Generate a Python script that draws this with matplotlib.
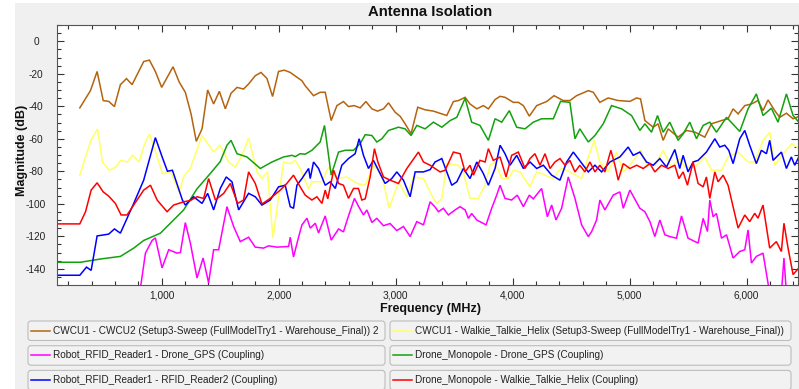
import matplotlib
matplotlib.use("Agg")
import matplotlib.pyplot as plt
import matplotlib.transforms as mtransforms
from matplotlib.patches import FancyBboxPatch, Rectangle
from matplotlib.lines import Line2D
from matplotlib.ticker import MultipleLocator, FuncFormatter

plt.rcParams['font.family'] = ['Liberation Sans', 'DejaVu Sans']
plt.rcParams['axes.unicode_minus'] = False

# ---- data ----
labels = [
    "CWCU1 - CWCU2 (Setup3-Sweep (FullModelTry1 - Warehouse_Final)) 2",
    "CWCU1 - Walkie_Talkie_Helix (Setup3-Sweep (FullModelTry1 - Warehouse_Final))",
    "Robot_RFID_Reader1 - Drone_GPS (Coupling)",
    "Drone_Monopole - Drone_GPS (Coupling)",
    "Robot_RFID_Reader1 - RFID_Reader2 (Coupling)",
    "Drone_Monopole - Walkie_Talkie_Helix (Coupling)",
]
colors = ['#b4640f', '#ffff66', '#ff00ff', '#13a10e', '#0000ff', '#ff0000']

brown_f = [300, 391, 448, 500, 547, 596, 647, 699, 747, 846, 895, 946, 1000, 1097, 1151, 1202, 1251,
           1296, 1345, 1393, 1444, 1493, 1544, 1593, 1644, 1700, 1743, 1800, 1849, 1900, 1948, 1999,
           2048, 2099, 2199, 2227, 2298, 2355, 2398, 2449, 2498, 2554, 2597, 2646, 2697, 2746, 2797,
           2845, 2896, 2939, 2996, 3040, 3081, 3132, 3189, 3252, 3323, 3437, 3494, 3537, 3594, 3636,
           3694, 3750, 3793, 3850, 3893, 3935, 4006, 4049, 4092, 4143, 4206, 4291, 4354, 4433, 4490,
           4547, 4647, 4690, 4746, 4817, 4903, 5003, 5060, 5094, 5131, 5202, 5244, 5287, 5330, 5415,
           5487, 5558, 5643, 5700, 5786, 5842, 5885, 5928, 5985, 6042, 6098, 6141, 6184, 6241, 6284,
           6341, 6398, 6447]
brown_db = [-41, -30.4, -18.6, -36.5, -37, -40.2, -26.7, -23, -26.7, -12.5, -11.6, -18.6, -28.4,
            -15.7, -25.3, -31.4, -44.7, -61.6, -53.9, -30, -38.6, -30.8, -41.6, -32, -28.4, -29.4,
            -26.3, -21.2, -19.2, -22.9, -34, -18.6, -17.8, -19.2, -24.3, -27.4, -33.5, -31.4, -31.4,
            -48.8, -39.6, -37.1, -40.2, -39.6, -41, -37.1, -41.6, -43, -41.6, -37.9, -43.7, -46.3,
            -50.8, -56.9, -40.6, -42.2, -43, -45.7, -37.1, -36.5, -34.5, -38.6, -41.6, -39.6, -41.6,
            -35.9, -33.9, -34.5, -37.6, -37.6, -39.6, -46.1, -39.6, -37.1, -33.5, -36.5, -36.5,
            -33.5, -30.4, -31.4, -37.6, -34.9, -36.5, -37, -34.9, -35.5, -48.8, -52.9, -50.8, -61,
            -53.9, -59, -54.9, -55.9, -59, -50.8, -48.8, -47.7, -41.6, -44.7, -39.6, -38.6, -36.5,
            -42.7, -36.1, -42.7, -46.8, -44.3, -47.7, -46.3]

yellow_f = [300, 394, 451, 494, 551, 607, 650, 707, 750, 807, 850, 895, 949, 1006, 1077, 1149, 1190,
            1245, 1345, 1444, 1501, 1572, 1629, 1687, 1743, 1815, 1857, 1905, 1951, 2042, 2099, 2142,
            2184, 2256, 2284, 2370, 2426, 2498, 2583, 2669, 2740, 2810, 2882, 2945, 3024, 3096, 3152,
            3238, 3323, 3352, 3395, 3437, 3537, 3579, 3636, 3707, 3764, 3807, 3850, 3907, 3963, 4006,
            4063, 4149, 4206, 4277, 4348, 4390, 4419, 4490, 4590, 4647, 4698, 4746, 4817, 4889, 4946,
            5003, 5097, 5145, 5216, 5287, 5359, 5429, 5472, 5558, 5643, 5700, 5786, 5842, 5928, 6013,
            6070, 6141, 6198, 6241, 6312, 6389, 6447]
yellow_db = [-82.4, -61, -53.9, -74.3, -79.4, -77.4, -73.3, -74.3, -70.2, -74.3, -64.1, -57, -68.2,
             -81.4, -80.4, -92.7, -83, -78.3, -58, -68.2, -64, -74.3, -77.4, -70.2, -59.6, -80.4,
             -84.5, -80.4, -121, -74.3, -75.3, -73.3, -78.3, -91, -86.5, -86.5, -77.4, -84.5, -83.5,
             -87.5, -88.6, -76.3, -82.4, -102.8, -86.5, -95.7, -83.5, -84.5, -96.7, -99.8, -96.7,
             -75.3, -76.3, -80.4, -96.7, -96.7, -88.6, -76.3, -74.3, -84.5, -84.5, -79.4, -80.4,
             -89.6, -80.4, -82.4, -84.5, -80, -78.3, -80.4, -84.5, -71.2, -61, -74.3, -80.4, -68.2,
             -80.4, -76.3, -67.1, -76.3, -76.3, -67.1, -77.4, -72.2, -77.4, -77.4, -71.2, -79.4,
             -79.4, -71.2, -68.2, -74.3, -74.3, -61, -56, -76.3, -69.2, -63, -66]

magenta_f = [818, 861, 918, 946, 1003, 1060, 1132, 1160, 1202, 1245, 1302, 1354, 1401, 1444, 1487,
             1558, 1615, 1672, 1743, 1800, 1871, 1914, 1985, 2085, 2099, 2127, 2170, 2199, 2242, 2270,
             2313, 2341, 2398, 2449, 2512, 2554, 2597, 2648, 2682, 2725, 2754, 2797, 2839, 2896, 2953,
             3010, 3067, 3124, 3181, 3238, 3295, 3337, 3366, 3408, 3451, 3508, 3551, 3594, 3622, 3650,
             3694, 3773, 3821, 3864, 3893, 3935, 3992, 4040, 4092, 4143, 4177, 4248, 4297, 4334, 4371,
             4419, 4476, 4533, 4590, 4647, 4676, 4718, 4746, 4789, 4860, 4917, 4946, 5003, 5088, 5131,
             5174, 5216, 5259, 5302, 5344, 5401, 5444, 5500, 5586, 5629, 5666, 5686, 5714, 5743, 5786,
             5829, 5885, 5942, 5985, 6013, 6042, 6084, 6141, 6198, 6298, 6320, 6341]
magenta_db = [-152, -130.4, -122.6, -121, -139.5, -128.3, -130.4, -130, -111.6, -124.2, -145.7,
              -133.4, -148.7, -128.3, -128.3, -101.8, -114, -123.3, -120.6, -126.7, -127.3, -125.9,
              -126.7, -126.3, -120.6, -132.8, -120.6, -113, -108.9, -115, -112, -118, -107.5, -122.4,
              -115.5, -117.3, -107.5, -96.7, -101.5, -106.9, -103.8, -111.5, -109, -113.5, -112.2,
              -116.5, -114, -120.2, -111, -113, -98.8, -102, -104.9, -102.8, -106.9, -103.8, -101.8,
              -103.8, -109, -106, -110, -113, -102.8, -94.7, -88.6, -96.7, -97.7, -94.7, -101.8,
              -94.7, -97, -90.6, -108, -100.8, -110, -102.8, -83.5, -96.7, -113, -120.2, -117.1,
              -110, -97.7, -103.8, -94.7, -92.7, -102.8, -91.6, -102.8, -104.9, -111, -120.2, -110,
              -119.1, -120.2, -121.2, -107.5, -121.2, -124.2, -109, -117.1, -97.7, -108, -106,
              -121.2, -119.1, -133.4, -129.4, -128.3, -116.1, -136.5, -132.4, -130.4, -155, -155,
              -133.4, -155]

green_f = [100, 306, 477, 647, 761, 846, 989, 1102, 1188, 1300, 1420, 1501, 1558, 1593, 1644, 1729,
           1843, 1943, 2042, 2113, 2142, 2184, 2227, 2284, 2355, 2392, 2449, 2512, 2569, 2640, 2697,
           2740, 2797, 2839, 2882, 2939, 3024, 3081, 3132, 3181, 3252, 3323, 3395, 3466, 3523, 3594,
           3650, 3721, 3793, 3850, 3907, 3972, 4035, 4106, 4177, 4248, 4348, 4410, 4490, 4533, 4575,
           4647, 4704, 4775, 4846, 4932, 5017, 5088, 5131, 5188, 5239, 5287, 5344, 5415, 5458, 5515,
           5572, 5629, 5686, 5743, 5829, 5942, 6013, 6084, 6141, 6212, 6269, 6341, 6398, 6447]
green_db = [-136, -136, -134, -132.4, -127.3, -122.6, -118.1, -110, -103.8, -91, -81, -74, -64, -61,
            -69.2, -71.2, -78.3, -74.3, -71.2, -70.2, -71, -69.2, -69.5, -67.1, -62, -51.8, -82.4,
            -68.2, -67.1, -67.1, -63, -57.5, -58, -62, -60, -54.9, -52.9, -53.9, -58, -51.8, -53.9,
            -49.8, -52.9, -48.8, -46.8, -35.1, -49.8, -51.8, -61, -47.7, -49.8, -42.7, -52.9, -53.9,
            -49.8, -47.7, -47.7, -37, -37.6, -60, -53.9, -62, -58, -50.8, -39.6, -41.6, -45.7,
            -54.9, -50.8, -56, -45.7, -56, -49.8, -61, -57, -49.8, -60, -51.8, -49.8, -56, -46.8,
            -55.5, -41.6, -32.4, -45.7, -41.2, -49.8, -32.4, -45.7, -49.8]

blue_f = [100, 300, 357, 397, 448, 547, 596, 647, 761, 846, 946, 1003, 1049, 1092, 1177, 1202, 1273,
          1345, 1393, 1444, 1501, 1552, 1601, 1658, 1743, 1800, 1857, 1928, 1999, 2056, 2099, 2127,
          2156, 2199, 2256, 2270, 2298, 2341, 2398, 2441, 2484, 2540, 2597, 2654, 2688, 2725, 2768,
          2810, 2867, 2910, 2967, 3010, 3067, 3124, 3167, 3238, 3295, 3337, 3395, 3437, 3480, 3523,
          3579, 3636, 3694, 3750, 3793, 3850, 3893, 3935, 3978, 4035, 4092, 4149, 4206, 4263, 4334,
          4405, 4462, 4519, 4561, 4604, 4647, 4704, 4761, 4832, 4917, 4988, 5031, 5088, 5145, 5202,
          5259, 5316, 5387, 5429, 5458, 5500, 5543, 5586, 5657, 5729, 5771, 5814, 5848, 5885, 5942,
          5985, 6027, 6084, 6127, 6170, 6198, 6227, 6298, 6341, 6383, 6412, 6447]
blue_db = [-144, -144, -139, -141, -119.8, -118.7, -115.5, -118.1, -99.8, -85.5, -59.3, -71, -80,
           -79.4, -97.7, -100.8, -95.7, -99.8, -93.6, -103.8, -90.6, -83.5, -86.5, -103.8, -93.6,
           -95.7, -100.8, -97.7, -89.6, -88.6, -101.8, -102.8, -88.6, -84.5, -78.3, -84.5, -74.3,
           -78.3, -88.6, -86.5, -90.6, -76.3, -72.2, -69.2, -60, -70.2, -78.3, -73.3, -81.4, -87.5,
           -84.5, -80.4, -85.5, -95.7, -80.4, -80.4, -79, -74.3, -72.2, -80.4, -88.6, -86.5, -78.3,
           -84.5, -74.3, -81.4, -88.6, -78.3, -64, -69.2, -76.3, -70.2, -78.3, -74.3, -78.3, -76.3,
           -82.4, -85.5, -74.3, -68.2, -72.2, -76.3, -80.4, -76.3, -80.4, -74.3, -71.2, -65.1,
           -70.2, -68.2, -74.3, -76.3, -72.2, -77.4, -66.6, -78.3, -70.2, -80.4, -74.3, -73.3,
           -68.2, -60, -65.1, -64, -67.1, -75.3, -60, -54.9, -64, -75.3, -67.1, -69.2, -61, -73.3,
           -68.2, -78.3, -71.2, -76.3, -71.2]

red_f = [100, 300, 349, 397, 448, 500, 547, 604, 653, 704, 761, 846, 904, 961, 1046, 1102, 1188, 1245,
         1302, 1359, 1401, 1459, 1530, 1587, 1649, 1700, 1743, 1800, 1857, 1928, 2014, 2070, 2127,
         2184, 2227, 2284, 2327, 2370, 2398, 2420, 2470, 2512, 2554, 2597, 2640, 2682, 2711, 2740,
         2782, 2819, 2848, 2896, 2953, 3024, 3096, 3195, 3238, 3295, 3337, 3380, 3423, 3494, 3551,
         3594, 3636, 3665, 3721, 3765, 3793, 3835, 3893, 3944, 3992, 4049, 4106, 4149, 4191, 4234,
         4277, 4320, 4362, 4405, 4448, 4490, 4533, 4575, 4618, 4661, 4704, 4746, 4789, 4840, 4875,
         4903, 4946, 5003, 5060, 5117, 5174, 5216, 5273, 5330, 5387, 5421, 5458, 5495, 5543, 5586,
         5629, 5657, 5686, 5729, 5757, 5800, 5842, 5885, 5928, 5985, 6027, 6070, 6098, 6141, 6198,
         6255, 6298, 6320, 6355, 6398, 6447]
red_db = [-112.4, -112.4, -104.9, -91.6, -87.1, -92.7, -95.3, -99.8, -106.9, -106.9, -100.8, -91.6,
          -88.6, -97.7, -104.9, -100.8, -98.8, -98, -95.7, -96.7, -84.5, -97.7, -93.6, -87.5, -99.8,
          -97.7, -80.4, -87.5, -100.2, -96.7, -91.6, -87.5, -82.4, -89.6, -94.7, -97.7, -95.7,
          -99.8, -91.6, -97, -79.4, -87.5, -88.6, -96.7, -90.6, -90.6, -97.7, -97, -83.5, -66.1,
          -74.3, -83.5, -85.5, -87.5, -78.3, -68.2, -74.3, -76.3, -78.3, -80.4, -79.4, -68.2,
          -69.2, -80.4, -76.3, -82.4, -73.3, -74.3, -66.1, -73.3, -71.2, -83.5, -70.2, -68.2,
          -78.3, -72.2, -69.2, -76.3, -69.2, -78.3, -74.3, -72.2, -76.3, -73.3, -80.4, -76.3,
          -80.4, -74.3, -80.4, -76.3, -80.4, -67.1, -76.3, -85.5, -75.3, -78.3, -76.3, -78.3,
          -75.3, -80.4, -76.3, -78.3, -76.3, -84.5, -80.4, -88.6, -74.3, -87.5, -89.6, -83.5,
          -96.7, -80.4, -86.5, -82.4, -88.6, -101.8, -115, -106.9, -111, -105.9, -108.9, -100.8,
          -127.3, -123.3, -129.4, -112, -127.3, -143.6, -139.5]

series = [(brown_f, brown_db), (yellow_f, yellow_db), (magenta_f, magenta_db),
          (green_f, green_db), (blue_f, blue_db), (red_f, red_db)]

# ---- figure ----
W, H = 799, 389
fig = plt.figure(figsize=(W / 100, H / 100), dpi=100)
fig.patch.set_facecolor('white')
pix = mtransforms.Affine2D().scale(1 / W, 1 / H) + fig.transFigure

fig.add_artist(Rectangle((15, 0), W - 15, H - 3, transform=pix,
                         facecolor='#f0f0f0', edgecolor='none', zorder=0))

ax = fig.add_axes([57 / W, (H - 285) / H, (798 - 57) / W, 260 / H])
ax.set_facecolor('white')

for (f, db), c in zip(series, colors):
    ax.plot(f, db, color=c, lw=1.1, solid_joinstyle='miter')

ax.set_xlim(105, 6440)
ax.set_ylim(-150, 10)
ax.xaxis.set_major_locator(MultipleLocator(1000))
ax.xaxis.set_minor_locator(MultipleLocator(200))
ax.yaxis.set_major_locator(MultipleLocator(20))
ax.yaxis.set_minor_locator(MultipleLocator(5))
ax.set_yticks(range(-140, 1, 20))
ax.xaxis.set_major_formatter(FuncFormatter(lambda v, p: f"{int(v):,}"))

ax.tick_params(which='both', direction='in', top=True, right=True, colors='#333333',
               labelcolor='#222222', labelsize=7.3)
ax.tick_params(which='major', length=5, width=0.8)
ax.tick_params(which='minor', length=3, width=0.8)
ax.tick_params(axis='x', pad=4)
ax.tick_params(axis='y', pad=15)
for lbl in ax.get_yticklabels():
    lbl.set_horizontalalignment('center')
for s in ax.spines.values():
    s.set_color('#555555')
    s.set_linewidth(0.8)

fig.text(430 / W, 1 - 12 / H, "Antenna Isolation", ha='center', va='center',
         fontsize=10.7, fontweight='bold', color='#111111')
fig.text(430 / W, 1 - 309 / H, "Frequency (MHz)", ha='center', va='center',
         fontsize=9, fontweight='bold', color='#111111')
fig.text(22 / W, 1 - 150 / H, "Magnitude (dB)", ha='center', va='center', rotation=90,
         fontsize=9, fontweight='bold', color='#111111')

# ---- legend boxes ----
for i, (lab, c) in enumerate(zip(labels, colors)):
    col, row = i % 2, i // 2
    x0, x1 = (28, 385) if col == 0 else (390, 791)
    ytop = 321 + row * 24.7
    bh = 19.5
    fig.add_artist(FancyBboxPatch((x0, H - ytop - bh), x1 - x0, bh,
                                  boxstyle='round,pad=0,rounding_size=3', transform=pix,
                                  facecolor='#f2f2f2', edgecolor='#bdbdbd', lw=0.8))
    yc = H - ytop - bh / 2
    fig.add_artist(Line2D([x0 + 3, x0 + 22], [yc, yc], color=c, lw=1.1, transform=pix))
    fig.text((x0 + 25) / W, yc / H, lab, ha='left', va='center', fontsize=7.2, color='#222222')

fig.savefig('out.png', dpi=100)
